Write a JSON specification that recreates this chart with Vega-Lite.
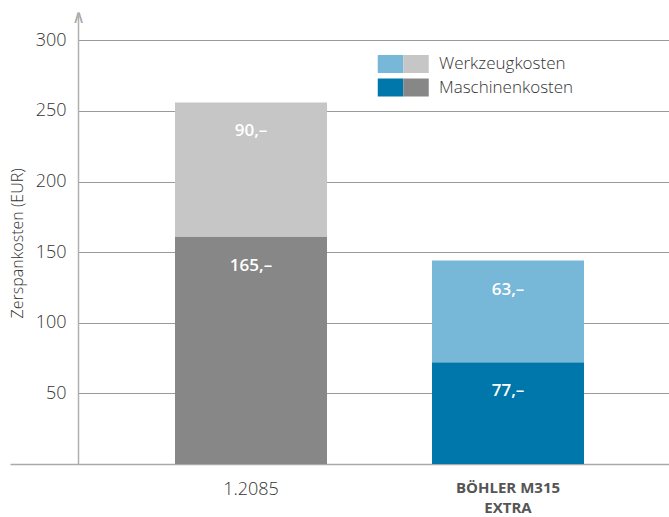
{
  "$schema": "https://vega.github.io/schema/vega-lite/v6.json",
  "width": 591,
  "height": 452,
  "autosize": {"type": "none"},
  "padding": {"left": 78, "top": 12, "right": 0, "bottom": 53},
  "background": "white",
  "config": {
    "view": {"stroke": null},
    "font": "Open Sans",
    "axis": {"labelFont": "Open Sans", "titleFont": "Open Sans"},
    "legend": {"labelFont": "Open Sans"}
  },
  "data": {
    "values": [
      {"Material": "1.2085", "Kostenart": "Maschinenkosten", "Wert": 161, "Label": "165,–", "Segment": "1.2085 Maschinenkosten"},
      {"Material": "1.2085", "Kostenart": "Werkzeugkosten", "Wert": 95, "Label": "90,–", "Segment": "1.2085 Werkzeugkosten"},
      {"Material": "BÖHLER M315 EXTRA", "Kostenart": "Maschinenkosten", "Wert": 72, "Label": "77,–", "Segment": "M315 Maschinenkosten"},
      {"Material": "BÖHLER M315 EXTRA", "Kostenart": "Werkzeugkosten", "Wert": 72, "Label": "63,–", "Segment": "M315 Werkzeugkosten"}
    ]
  },
  "transform": [
    {"stack": "Wert", "groupby": ["Material"], "sort": [{"field": "Kostenart", "order": "ascending"}], "as": ["y0", "y1"]}
  ],
  "layer": [
    {
      "mark": {"type": "bar"},
      "encoding": {
        "x": {
          "field": "Material", "type": "nominal", "sort": null,
          "scale": {"paddingInner": 0.4086, "paddingOuter": 0.354, "align": 0.533},
          "axis": {
            "title": null, "ticks": false, "grid": false,
            "domainColor": "#aaaaaa", "domainWidth": 1.5,
            "labelAngle": 0,
            "labelPadding": {"condition": {"test": "datum.value === 'BÖHLER M315 EXTRA'", "value": 16}, "value": 16},
            "labelFontSize": {"condition": {"test": "datum.value === 'BÖHLER M315 EXTRA'", "value": 15}, "value": 18},
            "labelColor": {"condition": {"test": "datum.value === 'BÖHLER M315 EXTRA'", "value": "#555555"}, "value": "#333333"},
            "labelFontWeight": {"condition": {"test": "datum.value === 'BÖHLER M315 EXTRA'", "value": "bold"}, "value": 300},
            "labelLineHeight": 20,
            "labelExpr": "datum.value === 'BÖHLER M315 EXTRA' ? ['BÖHLER M315', 'EXTRA'] : datum.label"
          }
        },
        "y": {
          "field": "y1", "type": "quantitative",
          "scale": {"domain": [0, 320], "nice": false, "zero": true},
          "axis": {
            "title": "Zerspankosten (EUR)",
            "titleFontSize": 16, "titleFontWeight": 300, "titleColor": "#333333",
            "titleX": -61, "titleY": 231, "titleAlign": "center", "titleBaseline": "middle", "titleAngle": -90,
            "values": [0, 50, 100, 150, 200, 250, 300, 320],
            "labelExpr": "datum.value === 0 ? '' : (datum.value === 320 ? '∧' : datum.label)",
            "labelFontSize": {"condition": {"test": "datum.value === 320", "value": 18}, "value": 18},
            "labelFont": {"condition": {"test": "datum.value === 320", "value": "DejaVu Sans"}, "value": "Open Sans"},
            "labelFontWeight": {"condition": {"test": "datum.value === 320", "value": 200}, "value": 300},
            "labelColor": {"condition": {"test": "datum.value === 320", "value": "#a8a8a8"}, "value": "#333333"},
            "labelAlign": {"condition": {"test": "datum.value === 320", "value": "center"}, "value": "right"},
            "labelBaseline": {"condition": {"test": "datum.value === 320", "value": "top"}, "value": "middle"},
            "labelPadding": {"condition": {"test": "datum.value === 320", "value": -68}, "value": -56},
            "labelOffset": {"condition": {"test": "datum.value === 320", "value": -4}, "value": 0},
            "labelFlush": false,
            "labelOverlap": false,
            "tickSize": 68,
            "tickColor": {"condition": {"test": "datum.value === 0", "value": "#aaaaaa"}, "value": "transparent"},
            "tickWidth": 1.5,
            "domainColor": "#b0b0b0", "domainWidth": 1.5,
            "grid": true, "gridWidth": 1,
            "gridColor": {"condition": {"test": "datum.value === 320", "value": "transparent"}, "value": "#9a9a9a"}
          }
        },
        "y2": {"field": "y0"},
        "color": {
          "field": "Segment", "type": "nominal",
          "scale": {
            "domain": ["1.2085 Maschinenkosten", "1.2085 Werkzeugkosten", "M315 Maschinenkosten", "M315 Werkzeugkosten"],
            "range": ["#878787", "#c6c6c6", "#0077aa", "#77b7d8"]
          },
          "legend": null
        }
      }
    },
    {
      "mark": {"type": "text", "color": "white", "fontWeight": 600, "fontSize": 17, "baseline": "middle", "dy": 29},
      "encoding": {
        "x": {"field": "Material", "type": "nominal", "sort": null},
        "y": {"field": "y1", "type": "quantitative"},
        "text": {"field": "Label"}
      }
    },
    {
      "transform": [{"filter": "false"}],
      "mark": {"type": "square"},
      "encoding": {
        "color": {
          "field": "Kostenart", "type": "nominal",
          "scale": {"domain": ["Werkzeugkosten", "Maschinenkosten"], "range": ["#77b7d8", "#0077aa"]},
          "legend": {
            "orient": "none", "legendX": 303.5, "legendY": 43, "title": null, "padding": 0,
            "symbolType": "M-1.417,-1H1.417V1H-1.417Z", "symbolSize": 324, "symbolOpacity": 1, "symbolStrokeWidth": 0,
            "rowPadding": 5.5, "labelExpr": "''", "labelFontSize": 17
          }
        }
      }
    },
    {
      "transform": [{"filter": "false"}],
      "mark": {"type": "square"},
      "encoding": {
        "color": {
          "field": "Kostenart", "type": "nominal",
          "scale": {"domain": ["Werkzeugkosten", "Maschinenkosten"], "range": ["#c6c6c6", "#878787"]},
          "legend": {
            "orient": "none", "legendX": 329, "legendY": 43, "title": null, "padding": 0,
            "symbolType": "M-1.417,-1H1.417V1H-1.417Z", "symbolSize": 324, "symbolOpacity": 1, "symbolStrokeWidth": 0,
            "rowPadding": 5.5, "labelFontSize": 17, "labelFontWeight": 300, "labelColor": "#333333", "labelOffset": 14
          }
        }
      }
    }
  ],
  "resolve": {"scale": {"color": "independent"}}
}
